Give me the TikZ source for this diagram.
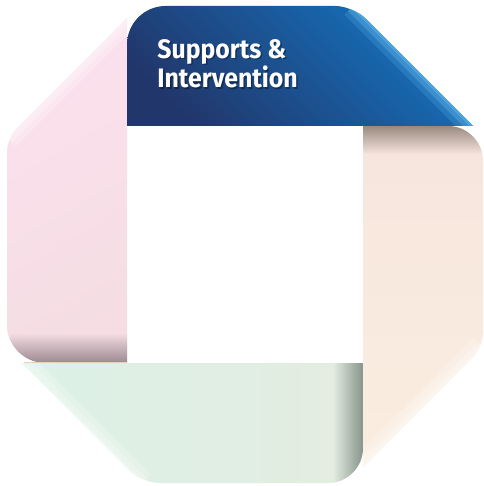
\documentclass[tikz,border=0pt]{standalone}
\usepackage{fontspec}
\newfontfamily\bandfont{Fira Sans}[FakeStretch=0.93]

\definecolor{bandnavy}{HTML}{21376B}
\definecolor{bandblue}{HTML}{1573BF}
\definecolor{bandsky}{HTML}{5BB0E6}
\definecolor{pinkhi}{HTML}{FBE1EE}
\definecolor{pinklo}{HTML}{F5DDE3}
\definecolor{pinkfold}{HTML}{9C8890}
\definecolor{peachhi}{HTML}{F7E5DD}
\definecolor{peachlo}{HTML}{FAEEE0}
\definecolor{peachfold}{HTML}{998A80}
\definecolor{greenhi}{HTML}{DCF1E6}
\definecolor{greenlo}{HTML}{E4ECE1}
\definecolor{greenfold}{HTML}{86948A}

\tikzset{
  glow/.style={line width=#1, white, opacity=0.22},
  titletext/.style={anchor=north west, inner sep=0pt, align=left,
    font=\bandfont\bfseries\fontsize{15.2}{15.3}\selectfont}
}

\begin{document}
\begin{tikzpicture}[x=0.02cm, y=-0.02cm]
  \useasboundingbox[fill=white] (0,0) rectangle (483,486);

  % left band
  \begin{scope}
    \clip (127,18) -- (127,363) [rounded corners=22] -- (7,363) [rounded corners=8] -- (7,138) [sharp corners] -- cycle;
    \shade[top color=pinkhi, bottom color=pinklo, shading angle=30] (7,7) rectangle (127,363);
    \shade[top color=pinklo, bottom color=pinkfold] (7,333) rectangle (127,363);
    \foreach \w in {14pt, 8pt, 3pt}
      \draw[glow=\w] (7,138) -- (127,18);
  \end{scope}

  % bottom band
  \begin{scope}
    \clip (22,363) -- (363,363) [rounded corners=20] -- (363,483) [rounded corners=10] -- (142,483) [sharp corners] -- cycle;
    \shade[left color=greenhi, right color=greenlo] (22,363) rectangle (363,483);
    \shade[left color=greenlo, right color=greenfold] (333,363) rectangle (363,483);
    \foreach \w in {14pt, 8pt, 3pt}
      \draw[glow=\w] (22,363) -- (142,483);
  \end{scope}
  \draw[peachfold!60!orange!40, line width=0.5pt] (24,362.5) -- (127,362.5);

  % right band
  \begin{scope}
    \clip (363,467) -- (363,126) [rounded corners=20] -- (483,126) [rounded corners=8] -- (483,347) [sharp corners] -- cycle;
    \shade[top color=peachhi, bottom color=peachlo] (363,126) rectangle (483,467);
    \shade[top color=peachfold, bottom color=peachhi] (363,126) rectangle (483,154);
    \foreach \w in {14pt, 8pt, 3pt}
      \draw[glow=\w] (483,347) -- (363,467);
  \end{scope}

  % top band
  \begin{scope}
    \clip (127,126) [rounded corners=22] -- (127,6) [rounded corners=10] -- (353,6) [sharp corners] -- (473,126) -- cycle;
    \shade[top color=bandblue, bottom color=bandnavy, shading angle=-45] (127,6) rectangle (473,126);
    \foreach \w/\o in {14pt/0.25, 8pt/0.4, 3pt/0.6}
      \draw[line width=\w, bandsky, opacity=\o] (353,6) -- (473,126);
  \end{scope}

  \node[titletext, black, opacity=0.35] (titleshade) at (158.5,40.5) {Supports \&\\Intervention};
  \node[titletext, white] (title) at (157,39) {Supports \&\\Intervention};
\end{tikzpicture}
\end{document}
